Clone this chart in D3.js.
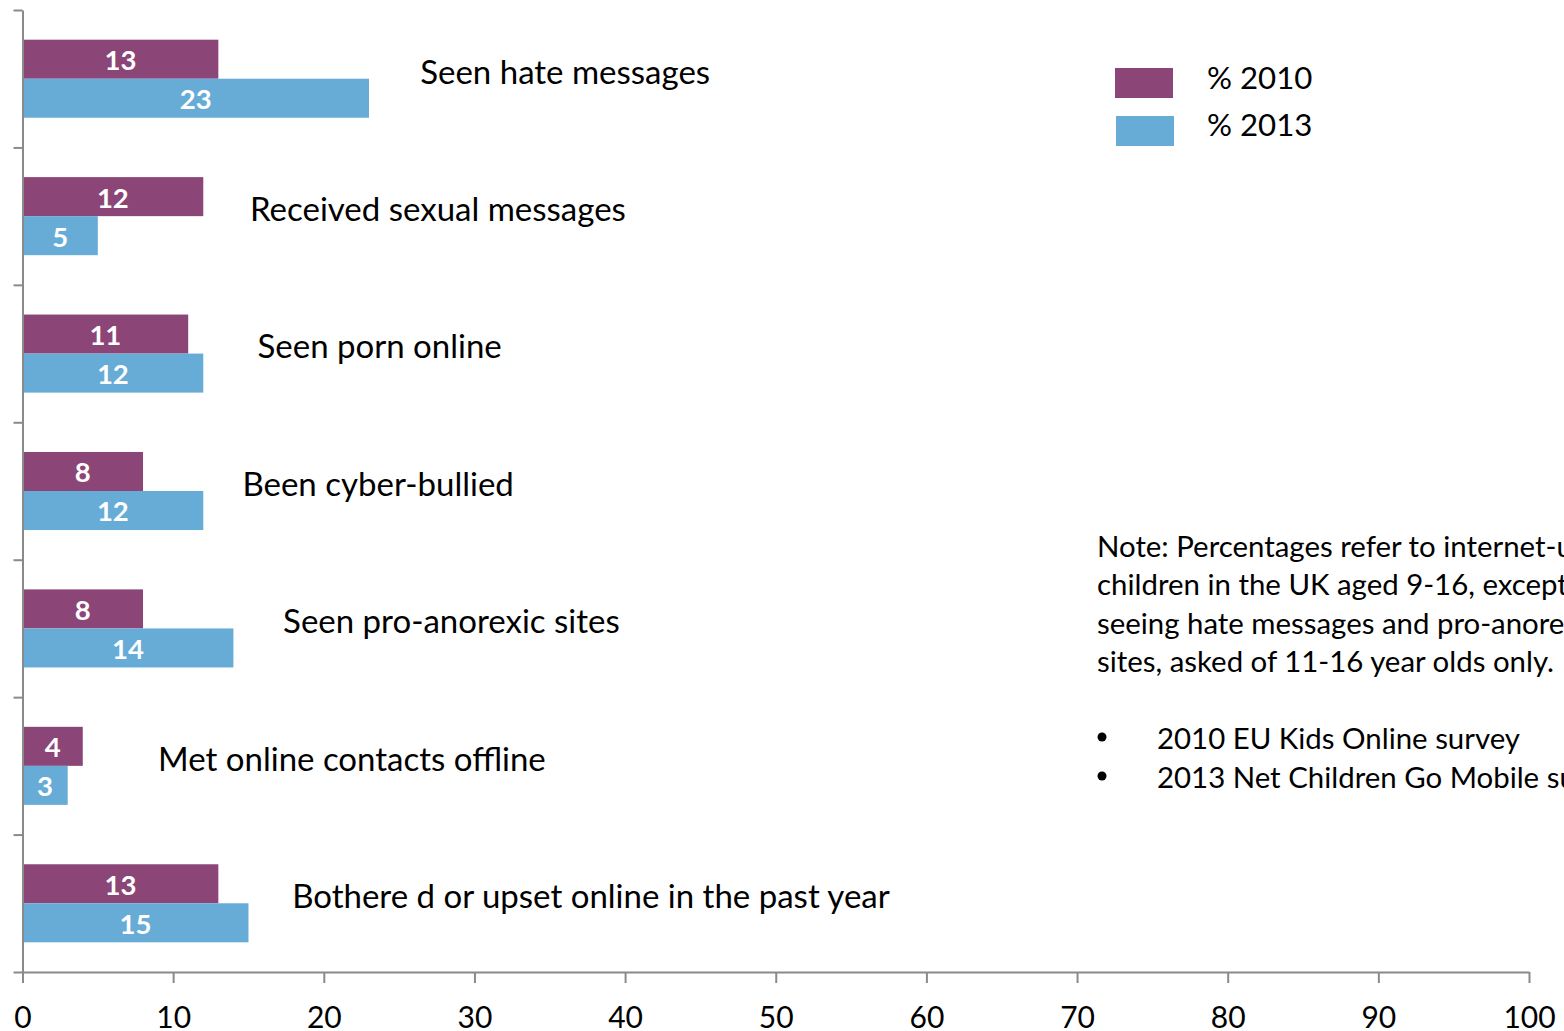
<!DOCTYPE html>
<html>
<head>
<meta charset="utf-8">
<script src="https://cdn.jsdelivr.net/npm/d3@7"></script>
<style>
  html, body { margin: 0; padding: 0; background: #fff; overflow: hidden; }
  svg { display: block; font-family: Lato, "Open Sans", sans-serif; }
</style>
</head>
<body>
<svg id="chart" width="1564" height="1031"></svg>
<script>
// ---- data ----
const categories = [
  "Seen hate messages",
  "Received sexual messages",
  "Seen porn online",
  "Been cyber-bullied",
  "Seen pro-anorexic sites",
  "Met online contacts offline",
  "Bothere d or upset online in the past year"
];
const seriesNames = ["% 2010", "% 2013"];
const values2010 = [13, 12, 11, 8, 8, 4, 13];
const values2013 = [23, 5, 12, 12, 14, 3, 15];
const xTicks = [0, 10, 20, 30, 40, 50, 60, 70, 80, 90, 100];
const noteLines = [
  "Note: Percentages refer to internet-using",
  "children in the UK aged 9-16, except for",
  "seeing hate messages and pro-anorexic",
  "sites, asked of 11-16 year olds only."
];
const sourceLines = [
  "2010 EU Kids Online survey",
  "2013 Net Children Go Mobile survey"
];
// layout: where each category label starts, in axis units
const labelStart = [26.4, 15.1, 15.6, 14.6, 17.3, 9.0, 17.9];

const colors = ["#8C4577", "#67ACD6"];
const axisColor = "#8a8a8a";

const svg = d3.select("#chart");

const x = d3.scaleLinear().domain([0, 100]).range([22.5, 1529]);
const y = d3.scaleBand().domain(categories).range([10, 972])
  .paddingInner(0.432).paddingOuter(0.216);
const ySub = d3.scaleBand().domain(seriesNames).range([0, y.bandwidth()]).padding(0);

const rows = categories.map((c, i) => ({
  cat: c, i,
  vals: [values2010[i], values2013[i]]
}));

// bars
const g = svg.append("g");
const groups = g.selectAll("g.cat").data(rows).join("g")
  .attr("transform", d => `translate(0,${y(d.cat)})`);

groups.selectAll("rect").data(d => d.vals.map((v, k) => ({v, k})))
  .join("rect")
  .attr("x", x(0))
  .attr("y", d => ySub(seriesNames[d.k]))
  .attr("width", d => x(d.v) - x(0))
  .attr("height", ySub.bandwidth())
  .attr("fill", d => colors[d.k]);

groups.selectAll("text.val").data(d => d.vals.map((v, k) => ({v, k})))
  .join("text")
  .attr("class", "val")
  .attr("x", d => (x(d.v) + x(0)) / 2)
  .attr("y", d => ySub(seriesNames[d.k]) + ySub.bandwidth() / 2 + 1)
  .attr("dy", "0.36em")
  .attr("text-anchor", "middle")
  .attr("fill", "#fff")
  .attr("font-weight", "bold")
  .attr("font-size", 27.5)
  .text(d => d.v);

// category labels
svg.append("g").selectAll("text").data(rows).join("text")
  .attr("x", d => x(labelStart[d.i]))
  .attr("y", d => y(d.cat) + y.bandwidth() / 2 - 7)
  .attr("dy", "0.36em")
  .attr("font-size", 33)
  .attr("fill", "#000")
  .text(d => d.cat);

// y axis with band boundary ticks
const yEdges = d3.scaleLinear().domain([0, categories.length]).range([10, 972]);
const yAxis = svg.append("g")
  .attr("transform", `translate(${x(0)},0)`)
  .call(d3.axisLeft(yEdges).tickValues(d3.range(categories.length + 1))
    .tickFormat("").tickSize(9).tickSizeOuter(0));
yAxis.selectAll("path, line").attr("stroke", axisColor).attr("stroke-width", 2);

// x axis
const xAxis = svg.append("g")
  .attr("transform", `translate(0,972)`)
  .call(d3.axisBottom(x).tickValues(xTicks).tickSize(11).tickSizeOuter(0).tickPadding(24));
xAxis.selectAll("path, line").attr("stroke", axisColor).attr("stroke-width", 2);
xAxis.selectAll("text").attr("font-size", 30).attr("fill", "#000")
  .attr("font-family", "Lato, sans-serif");

// legend
const legend = svg.append("g");
seriesNames.forEach((s, k) => {
  legend.append("rect")
    .attr("x", 1115 + k).attr("y", 68 + k * 48)
    .attr("width", 58).attr("height", 30)
    .attr("fill", colors[k]);
  legend.append("text")
    .attr("x", 1207).attr("y", 78 + k * 47)
    .attr("dy", "0.36em")
    .attr("font-size", 31.2).attr("fill", "#000")
    .text(s);
});

// note
const note = svg.append("g");
note.selectAll("text.n").data(noteLines).join("text")
  .attr("class", "n")
  .attr("x", 1097)
  .attr("y", (d, i) => 546 + i * 38.5)
  .attr("dy", "0.36em")
  .attr("font-size", 29.4).attr("fill", "#000")
  .text(d => d);
note.selectAll("circle").data(sourceLines).join("circle")
  .attr("cx", 1102).attr("cy", (d, i) => 737 + i * 39)
  .attr("r", 4.5).attr("fill", "#000");
note.selectAll("text.s").data(sourceLines).join("text")
  .attr("class", "s")
  .attr("x", 1157)
  .attr("y", (d, i) => 738 + i * 39)
  .attr("dy", "0.36em")
  .attr("font-size", 29.4).attr("fill", "#000")
  .text(d => d);
</script>
</body>
</html>
